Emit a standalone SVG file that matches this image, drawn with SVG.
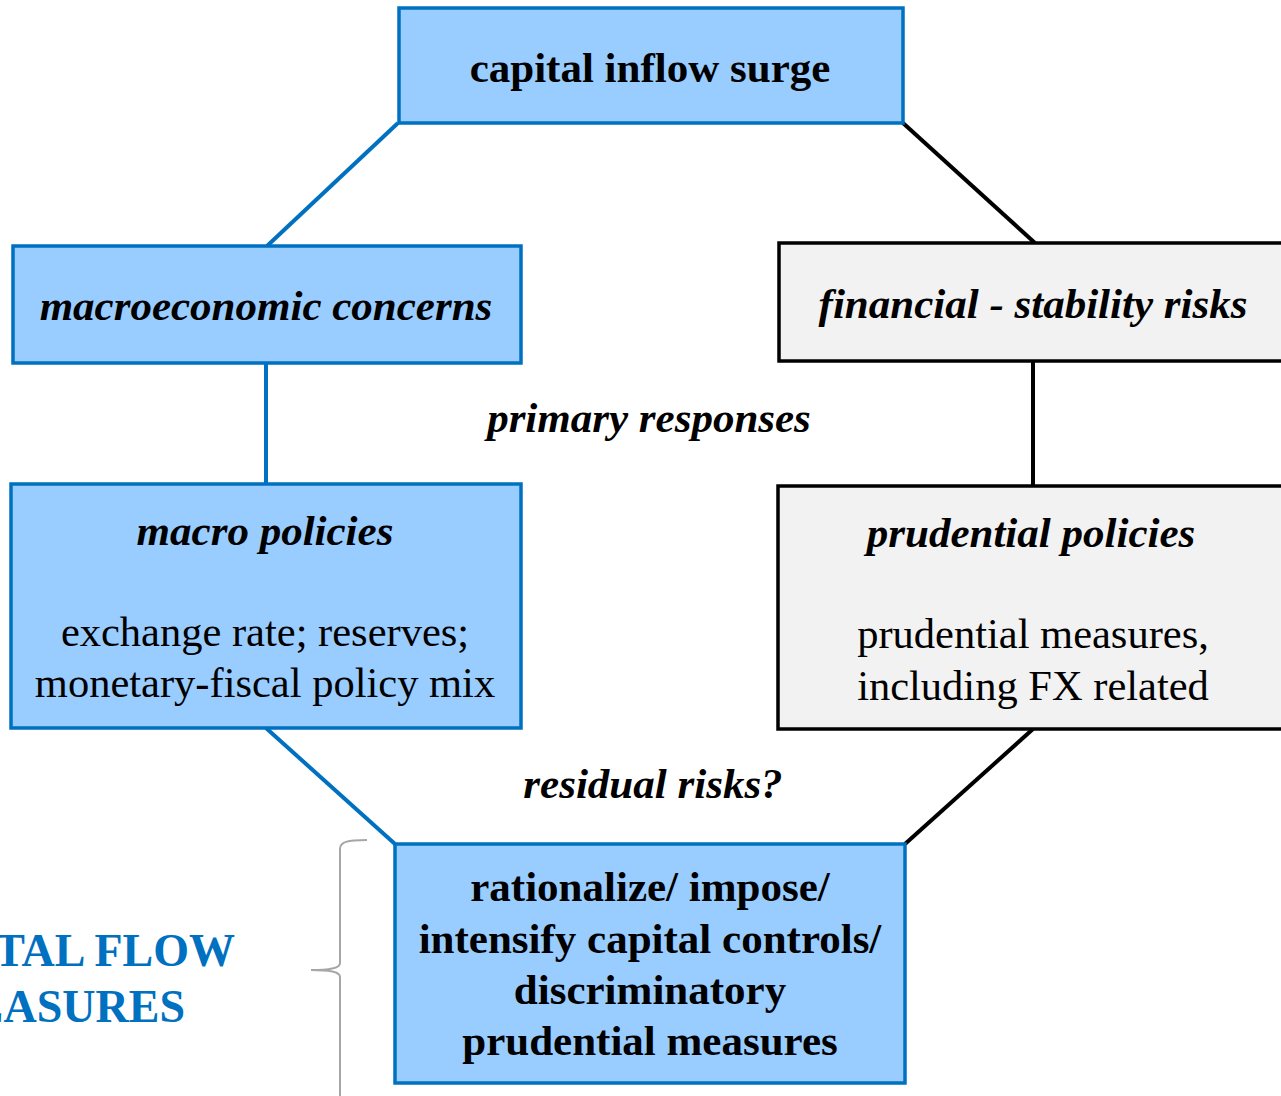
<svg xmlns="http://www.w3.org/2000/svg" width="1281" height="1096" viewBox="0 0 1281 1096">
<style>
.blue{fill:#99CCFF;stroke:#0070C0;stroke-width:3.5}
.grey{fill:#F2F2F2;stroke:#000;stroke-width:3.5}
text{font-family:"Liberation Serif","Times New Roman",serif;fill:#000;text-anchor:middle}
.b{font-weight:bold;font-size:43px}
.bi{font-weight:bold;font-style:italic;font-size:43px}
.r{font-size:42.5px}
.cbl{stroke:#0070C0;stroke-width:4;fill:none}
.cbk{stroke:#000;stroke-width:4;fill:none}
.side{font-weight:bold;font-size:46px;fill:#0070C0;text-anchor:end}
</style>
<rect width="1281" height="1096" fill="#fff"/>
<g id="connectors">
<line class="cbl" x1="398" y1="123" x2="267" y2="246"/>
<line class="cbk" x1="903" y1="123" x2="1035" y2="243"/>
<line class="cbl" x1="266" y1="363" x2="266" y2="484"/>
<line class="cbk" x1="1033" y1="361" x2="1033" y2="486"/>
<line class="cbl" x1="266" y1="728" x2="395" y2="844"/>
<line class="cbk" x1="1033" y1="729" x2="905" y2="844"/>
</g>
<g id="surge">
<rect class="blue" x="399" y="8" width="504" height="115"/>
<text class="b" x="650" y="82">capital inflow surge</text>
</g>
<g id="macro-concerns">
<rect class="blue" x="13" y="246" width="508" height="117"/>
<text class="bi" x="266" y="320">macroeconomic concerns</text>
</g>
<g id="fin-risks">
<rect class="grey" x="779" y="243" width="510" height="118"/>
<text class="bi" x="1033" y="318">financial - stability risks</text>
</g>
<g id="macro-policies">
<rect class="blue" x="11" y="484" width="510" height="244"/>
<text class="bi" x="265" y="545">macro policies</text>
<text class="r" x="265" y="646">exchange rate; reserves;</text>
<text class="r" x="265" y="697">monetary-fiscal policy mix</text>
</g>
<g id="prudential-policies">
<rect class="grey" x="778" y="486" width="511" height="243"/>
<text class="bi" x="1031" y="547">prudential policies</text>
<text class="r" x="1033" y="648">prudential measures,</text>
<text class="r" x="1033" y="700">including FX related</text>
</g>
<g id="labels">
<text class="bi" x="649" y="432">primary responses</text>
<text class="bi" x="653" y="798">residual risks?</text>
</g>
<g id="capital-controls">
<rect class="blue" x="395" y="844" width="510" height="239"/>
<text class="b" x="650" y="901">rationalize/ impose/</text>
<text class="b" x="650" y="953">intensify capital controls/</text>
<text class="b" x="650" y="1004">discriminatory</text>
<text class="b" x="650" y="1055">prudential measures</text>
</g>
<g id="cfm-label">
<path d="M367 840 C347 840 340 842 340 849 L340 963 C340 968 332 970 311 970 C332 970 340 972 340 977 L340 1096" fill="none" stroke="#A6A6A6" stroke-width="2"/>
<text class="side" x="235" y="966">CAPITAL FLOW</text>
<text class="side" x="185" y="1022">MEASURES</text>
</g>
</svg>
